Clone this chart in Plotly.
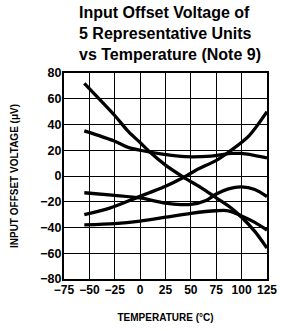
import plotly.graph_objects as go

# Temperatures (°C) and offset voltages (µV) for 5 units
temp_a = [-55, -25, -11, 0, 9, 25, 43, 60, 75, 90, 100, 113, 125]
vos_a = [72, 47, 34, 26, 19, 8.5, -1, -9, -17, -25, -32, -43, -56]

temp_b = [-55, -25, -11, 0, 22, 45, 70, 90, 100, 125]
vos_b = [35, 27, 22, 20, 17, 15, 15.5, 17.5, 17.5, 14]

temp_c = [-55, -30, -4, 9, 25, 43, 55, 76, 88, 107, 125]
vos_c = [-30, -25, -17, -13, -8, -1, 4.5, 12.5, 19, 31, 50]

temp_d = [-55, -25, 0, 25, 50, 65, 75, 87, 100, 113, 125]
vos_d = [-13, -15, -17, -21, -22, -19, -14, -10, -8.5, -10.5, -16]

temp_e = [-55, -25, 0, 25, 50, 75, 87, 100, 113, 125]
vos_e = [-38, -37, -35, -32, -29, -27, -27, -31, -36, -42]

x_ticks = [-75, -50, -25, 0, 25, 50, 75, 100, 125]
y_ticks = [-80, -60, -40, -20, 0, 20, 40, 60, 80]
x_labels = [f"<b>{v}</b>".replace("-", "\u2212") for v in x_ticks]
y_labels = [f"<b>{v}</b>".replace("-", "\u2212") for v in y_ticks]

series = [(temp_a, vos_a), (temp_b, vos_b), (temp_c, vos_c), (temp_d, vos_d), (temp_e, vos_e)]

fig = go.Figure()
for t, v in series:
    fig.add_trace(go.Scatter(x=t, y=v, mode="lines",
                             line=dict(color="black", width=3.3, shape="spline", smoothing=0.8),
                             showlegend=False, hoverinfo="skip"))

font_family = "Liberation Sans, Arial, sans-serif"

fig.add_annotation(
    text="<b>Input Offset Voltage of<br>5 Representative Units<br>vs Temperature (Note 9)</b>",
    xref="paper", yref="paper", x=0.52, y=1.0, xanchor="center", yanchor="bottom",
    yshift=8, showarrow=False, align="left",
    font=dict(family=font_family, size=16, color="black"),
)

fig.update_layout(
    width=287, height=331,
    margin=dict(l=64, r=20, t=73, b=52),
    paper_bgcolor="white", plot_bgcolor="white",
    font=dict(family=font_family, color="black"),
)
fig.update_xaxes(range=[-75, 125], tickvals=x_ticks, ticktext=x_labels, ticks="", showgrid=True,
                 gridcolor="black", gridwidth=1.3, zeroline=False, automargin=False,
                 showline=True, linecolor="black", linewidth=2, mirror=True,
                 tickfont=dict(size=12), ticklabelstandoff=-1,
                 title=dict(text="<b>TEMPERATURE (°C)</b>", font=dict(size=10), standoff=18))
fig.update_yaxes(range=[-80, 80], tickvals=y_ticks, ticktext=y_labels, ticks="", showgrid=True,
                 gridcolor="black", gridwidth=1.3, zeroline=False, automargin=False,
                 showline=True, linecolor="black", linewidth=2, mirror=True,
                 tickfont=dict(size=12.5), ticklabelstandoff=-2,
                 title=dict(text="<b>INPUT OFFSET VOLTAGE (μV)</b>", font=dict(size=10), standoff=20))

fig.write_html("out.html", config={"displayModeBar": False},
               post_script="document.body.style.margin='0';")
